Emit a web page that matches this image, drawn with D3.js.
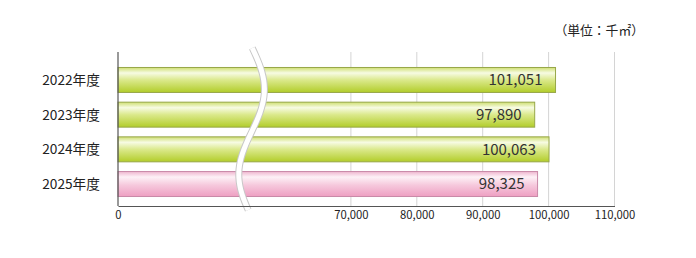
<!DOCTYPE html>
<html lang="ja">
<head>
<meta charset="UTF-8">
<title>年度別</title>
<script src="https://d3js.org/d3.v7.min.js"></script>
<style>
  body { margin: 0; background: #fff; }
  svg { display: block; font-family: "Noto Sans CJK JP", "Noto Sans", sans-serif; }
</style>
</head>
<body>
<svg id="chart" width="696" height="258"></svg>
<script>
const years = ["2022年度", "2023年度", "2024年度", "2025年度"];
const values = [101051, 97890, 100063, 98325];
const ticks = [0, 70000, 80000, 90000, 100000, 110000];
const unitLabel = "（単位：千㎡）";

const svg = d3.select("#chart");
const plotTop = 52, plotBottom = 206;

// broken axis: 0..60,000 squeezed into the left part
const x = d3.scaleLinear()
  .domain([0, 60000, 110000])
  .range([118, 285, 614.5]);

const y = d3.scaleBand()
  .domain(years)
  .range([plotTop, plotBottom])
  .paddingInner(0.28)
  .paddingOuter(0.36)
  .align(0.62);

const defs = svg.append("defs");
const grads = {
  green: [["0%", "#cfdf72"], ["22%", "#f7fbe3"], ["50%", "#dbe98c"], ["100%", "#b2cd2a"]],
  pink:  [["0%", "#efb6cf"], ["22%", "#fdf1f6"], ["55%", "#f6c8dc"], ["100%", "#ee9fc2"]]
};
Object.entries(grads).forEach(([k, stops]) => {
  const g = defs.append("linearGradient").attr("id", "g-" + k)
    .attr("x1", 0).attr("y1", 0).attr("x2", 0).attr("y2", 1);
  stops.forEach(s => g.append("stop").attr("offset", s[0]).attr("stop-color", s[1]));
});

// gridlines
svg.append("g").selectAll("line")
  .data(ticks.filter(t => t > 0))
  .join("line")
  .attr("x1", d => x(d)).attr("x2", d => x(d))
  .attr("y1", plotTop).attr("y2", plotBottom)
  .attr("stroke", "#d4d4d4").attr("stroke-width", 1);

// bars
const isLast = i => i === years.length - 1;
svg.append("g").selectAll("rect")
  .data(years)
  .join("rect")
  .attr("x", x(0))
  .attr("y", d => y(d))
  .attr("width", (d, i) => x(values[i]) - x(0))
  .attr("height", y.bandwidth())
  .attr("fill", (d, i) => isLast(i) ? "url(#g-pink)" : "url(#g-green)")
  .attr("stroke", (d, i) => isLast(i) ? "#c98aa8" : "#97a748")
  .attr("stroke-width", 1);

// value labels
svg.append("g").selectAll("text")
  .data(years)
  .join("text")
  .attr("x", (d, i) => x(values[i]) - 13)
  .attr("y", d => y(d) + y.bandwidth() / 2)
  .attr("dy", "0.36em")
  .attr("text-anchor", "end")
  .attr("font-size", 15)
  .attr("fill", "#333")
  .text((d, i) => d3.format(",")(values[i]));

// category labels
svg.append("g").selectAll("text")
  .data(years)
  .join("text")
  .attr("x", 100)
  .attr("y", d => y(d) + y.bandwidth() / 2)
  .attr("dy", "0.36em")
  .attr("text-anchor", "end")
  .attr("font-size", 13.7)
  .attr("fill", "#222")
  .text(d => d);

// break mark
const breakAt = 48000;
const bx = x(breakAt);
const wave = d3.range(0, 1.0001, 0.05).map(t => [
  bx + 13 * Math.sin(t * 2 * Math.PI * 0.95 + 0.05),
  plotTop - 4 + t * (plotBottom - plotTop + 8)
]);
const line = d3.line().curve(d3.curveBasis);
svg.append("path").attr("d", line(wave))
  .attr("fill", "none").attr("stroke", "#c8c8c8").attr("stroke-width", 7);
svg.append("path").attr("d", line(wave))
  .attr("fill", "none").attr("stroke", "#fff").attr("stroke-width", 5);

// axes
svg.append("line")
  .attr("x1", x(0)).attr("x2", x(0))
  .attr("y1", plotTop).attr("y2", plotBottom)
  .attr("stroke", "#555").attr("stroke-width", 1.2);

const xAxis = svg.append("g")
  .attr("transform", `translate(0,${plotBottom})`)
  .call(d3.axisBottom(x).tickValues(ticks).tickSize(0).tickPadding(5).tickFormat(d3.format(",")));
xAxis.select(".domain").attr("stroke", "#555").attr("stroke-width", 1.2);
xAxis.selectAll("text")
  .attr("font-family", "'Noto Sans CJK JP', 'Noto Sans', sans-serif")
  .attr("font-size", 11.3).attr("fill", "#222");

// unit
svg.append("text")
  .attr("x", 644).attr("y", 35)
  .attr("text-anchor", "end")
  .attr("font-size", 12.8)
  .attr("fill", "#222")
  .text(unitLabel);
</script>
</body>
</html>
